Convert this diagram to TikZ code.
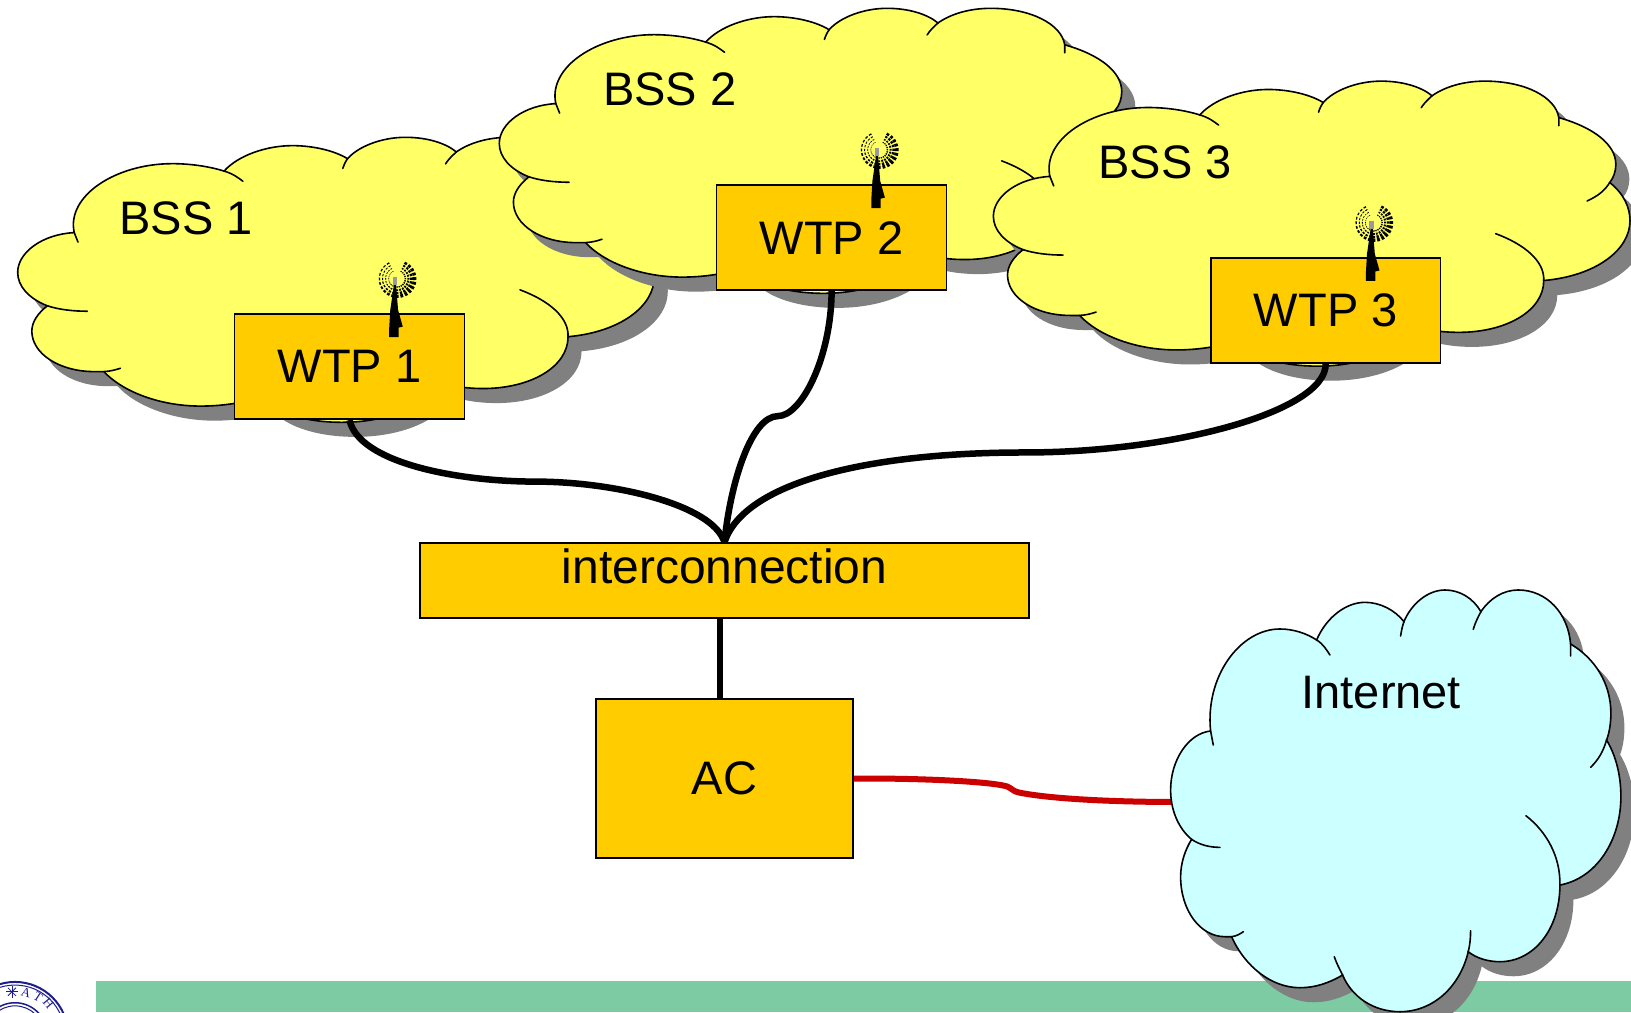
\documentclass[tikz,border=0pt]{standalone}
\usepackage{fontspec}
\setmainfont{Liberation Sans}
\newfontfamily\sealfont{Liberation Serif}
\definecolor{cloudyellow}{HTML}{FFFF66}
\definecolor{cloudcyan}{HTML}{CCFFFF}
\definecolor{boxorange}{HTML}{FFCC00}
\definecolor{shadowgray}{HTML}{808080}
\definecolor{bargreen}{HTML}{7CCBA2}
\definecolor{linkred}{HTML}{CC0000}
\definecolor{sealblue}{HTML}{1C1C8E}
\def\cloudoutline{(182,483) .. controls (165,320) and (270,177) .. (390,177) .. controls (430,177) and (470,190) .. (500,210)
 .. controls (530,140) and (590,97) .. (645,97) .. controls (690,97) and (735,120) .. (762,155)
 .. controls (785,100) and (835,60) .. (885,60) .. controls (930,60) and (970,85) .. (993,125)
 .. controls (1020,85) and (1060,60) .. (1105,60) .. controls (1190,60) and (1255,130) .. (1262,222)
 .. controls (1335,265) and (1383,340) .. (1383,430) .. controls (1383,460) and (1378,490) .. (1370,510)
 .. controls (1400,560) and (1413,620) .. (1413,680) .. controls (1413,810) and (1340,925) .. (1230,945)
 .. controls (1230,1080) and (1150,1175) .. (1050,1175) .. controls (1015,1175) and (980,1165) .. (955,1145)
 .. controls (930,1250) and (850,1325) .. (750,1325) .. controls (670,1325) and (605,1280) .. (578,1215)
 .. controls (535,1240) and (495,1253) .. (450,1253) .. controls (365,1253) and (285,1190) .. (245,1100)
 .. controls (240,1100) and (230,1100) .. (225,1100) .. controls (150,1100) and (92,1020) .. (92,920) .. controls (92,880) and (105,840) .. (125,808)
 .. controls (85,775) and (62,720) .. (62,660) .. controls (62,570) and (115,490) .. (182,483) -- cycle}
\def\cloudhooks{(182,483) -- (190,525)
 (500,210) .. controls (520,222) and (530,240) .. (540,255)
 (752,198) .. controls (755,180) and (757,170) .. (762,155)
 (970,178) .. controls (975,160) and (985,140) .. (993,125)
 (1262,222) -- (1262,258)
 (1370,510) .. controls (1360,545) and (1345,570) .. (1322,592)
 (1230,945) .. controls (1232,860) and (1190,785) .. (1128,737)
 (962,1082) .. controls (962,1105) and (960,1125) .. (955,1145)
 (578,1215) .. controls (568,1195) and (560,1180) .. (553,1160)
 (245,1100) .. controls (260,1098) and (270,1092) .. (280,1085)
 (125,808) .. controls (150,825) and (180,832) .. (210,832)}
\newcommand\drawcloud[5]{%
 \begin{scope}[shift={({#1+13},{#2+14})},xscale=#3,yscale=#4,shift={(-62,-60)}]
  \fill[shadowgray] \cloudoutline;
 \end{scope}
 \begin{scope}[shift={(#1,#2)},xscale=#3,yscale=#4,shift={(-62,-60)}]
  \fill[#5] \cloudoutline;
  \draw[cloudline] \cloudoutline;
  \draw[cloudline] \cloudhooks;
 \end{scope}}
\tikzset{
 cloudline/.style={black,line width=1.6pt,line cap=round},
 unitbox/.style={draw=black,fill=boxorange,line width=1.6pt,inner sep=0pt,font=\fontsize{47}{50}\selectfont},
 wtpbox/.style={unitbox,minimum width=229.9pt,minimum height=105.1pt},
 cloudlabel/.style={inner sep=0pt,font=\fontsize{47}{50}\selectfont},
 trunk/.style={black,line width=6.5pt},
 redlink/.style={linkred,line width=6pt},
 sealletter/.style={inner sep=0pt,text=sealblue,font=\sealfont\fontsize{13}{14}\selectfont},
 antenna/.pic={
  \fill[black] (-3,6) -- (-1,6) -- (1,30) -- (5.5,46) -- (1.5,47) -- (1.5,56) -- (-7.5,56) -- (-7.5,47) -- (-6.5,30) -- cycle;
  \fill[shadowgray!80] (-4.2,-2) rectangle (0.3,6);
  \foreach \r/\w in {8/1.2,11/1.7,14/2.2,17/2.9}{
   \foreach \a in {-65,-50,...,245}{
    \pgfmathsetmacro\lw{\w*(0.3+0.7*(1+cos(\a-25))/2)*1.3}
    \draw[black,line width=\lw pt] (\a:\r) arc[start angle=\a,delta angle=9,radius=\r];
   }}
 }
}
\begin{document}
\begin{tikzpicture}[x=1.0402pt,y=-1.0402pt]
\useasboundingbox (0,0) rectangle (1568,973);
\clip (0,0) rectangle (1568,973);
\fill[white] (0,0) rectangle (1568,973);
% footer
\fill[bargreen] (92,943) rectangle (1568,973);
\draw[sealblue,line width=2pt] (14.4,995) circle[radius=51];
\draw[sealblue,line width=1pt] (14.4,995) circle[radius=48];
\draw[sealblue,line width=1.5pt] (14.4,995) circle[radius=31];
\draw[sealblue,line width=1pt] (14.4,995) circle[radius=28];
\node[sealletter,rotate=-16] (sealA) at (25,954.5) {A};
\node[sealletter,rotate=-33] (sealT) at (36.5,958.5) {T};
\node[sealletter,rotate=-50] (sealH) at (46.5,965) {H};
\foreach \a in {0,45,...,315}
 \draw[sealblue,line width=0.8pt] (11.5,953.5) -- +(\a:5.5);
% BSS 1
\drawcloud{17}{132}{0.453}{0.2166}{cloudyellow}
\node[cloudlabel] (bss1) at (179,210) {BSS 1};
\node[wtpbox] (wtp1) at (336,352.5) {WTP 1};
\pic at (381.7,268) {antenna};
% BSS 2
\drawcloud{480}{8}{0.453}{0.2166}{cloudyellow}
\node[cloudlabel] (bss2) at (644,86) {BSS 2};
\node[wtpbox] (wtp2) at (799.5,228.5) {WTP 2};
\pic at (845.2,144) {antenna};
% BSS 3
\drawcloud{955}{78}{0.453}{0.2166}{cloudyellow}
\node[cloudlabel] (bss3) at (1120,156) {BSS 3};
\node[wtpbox] (wtp3) at (1274.5,298.5) {WTP 3};
\pic at (1320.7,214) {antenna};
% lower boxes
\node[unitbox,minimum width=609.4pt,minimum height=74.9pt,font=\fontsize{48}{50}\selectfont,text depth=0.25em,text height=0.9em] (inter) at (696.5,558) {interconnection};
\node[unitbox,minimum width=257pt,minimum height=159.2pt] (ac) at (696.5,748.5) {AC};
% red link, under the Internet cloud
\coordinate (inetport) at (1130,771);
\draw[redlink] (ac.east) .. controls (880,748) and (950,751) .. (968,756) .. controls (973,758) and (974,761) .. (980,762) .. controls (1010,768) and (1070,771) .. (inetport);
% Internet
\drawcloud{1125.4}{567.2}{0.3204}{0.3205}{cloudcyan}
\node[cloudlabel] (inet) at (1328,666) {Internet};
% trunks
\coordinate (join) at (inter.north);
\draw[trunk] (wtp1.south) .. controls (345,445) and (440,463) .. (515,463) .. controls (590,463) and (685,485) .. (join);
\draw[trunk] (wtp2.south) .. controls (799,345) and (770,400) .. (748,400) .. controls (722,400) and (702,465) .. (join);
\draw[trunk] (wtp3.south) .. controls (1275,395) and (1130,435) .. (985,435) .. controls (830,435) and (715,465) .. (join);
\draw[trunk] ([xshift=-4.7pt]inter.south) -- ([xshift=-4.7pt]ac.north);
\end{tikzpicture}
\end{document}
